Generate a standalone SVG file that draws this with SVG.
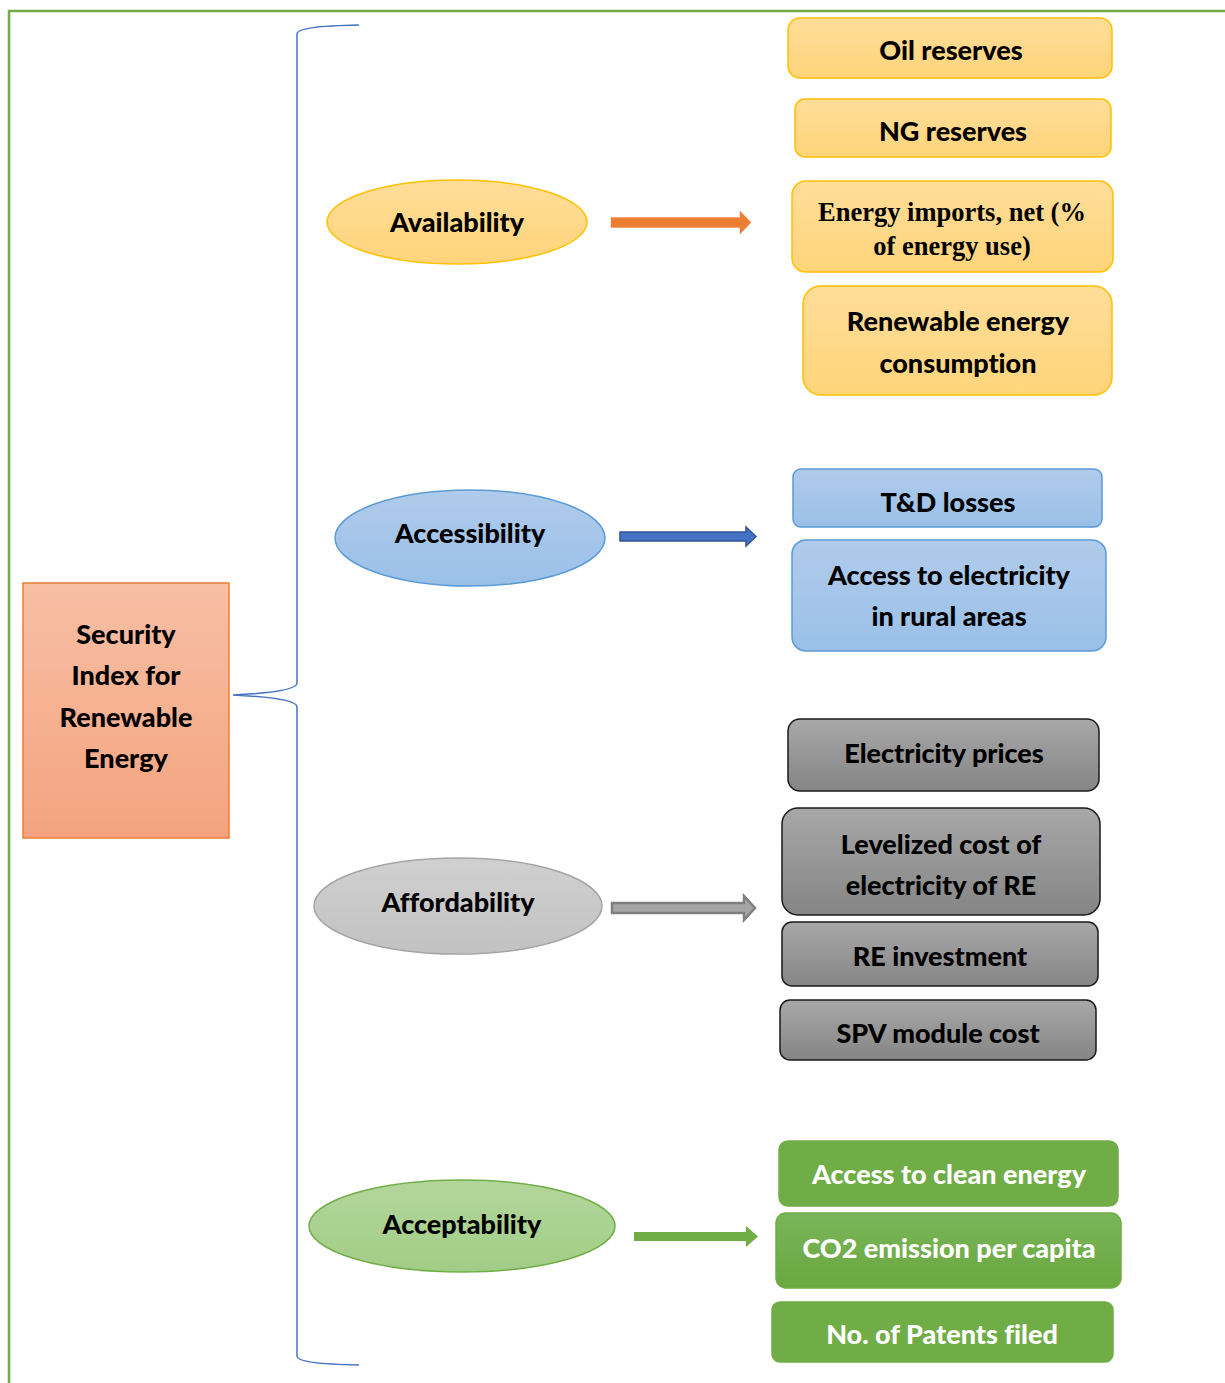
<svg xmlns="http://www.w3.org/2000/svg" width="1225" height="1383" viewBox="0 0 1225 1383">
<defs>
<linearGradient id="gOr" x1="0" y1="0" x2="0" y2="1"><stop offset="0" stop-color="#ffdd99"/><stop offset="1" stop-color="#ffd47a"/></linearGradient>
<linearGradient id="gBl" x1="0" y1="0" x2="0" y2="1"><stop offset="0" stop-color="#b0cbeb"/><stop offset="1" stop-color="#9ac0e8"/></linearGradient>
<linearGradient id="gGr" x1="0" y1="0" x2="0" y2="1"><stop offset="0" stop-color="#a8a8a8"/><stop offset="1" stop-color="#858585"/></linearGradient>
<linearGradient id="gGe" x1="0" y1="0" x2="0" y2="1"><stop offset="0" stop-color="#d0d0d0"/><stop offset="1" stop-color="#c2c2c2"/></linearGradient>
<linearGradient id="gGn" x1="0" y1="0" x2="0" y2="1"><stop offset="0" stop-color="#b3d69b"/><stop offset="1" stop-color="#a2cd86"/></linearGradient>
<linearGradient id="gGb" x1="0" y1="0" x2="0" y2="1"><stop offset="0" stop-color="#7ab55a"/><stop offset="1" stop-color="#6aa83f"/></linearGradient>
<linearGradient id="gSec" x1="0" y1="0" x2="0" y2="1"><stop offset="0" stop-color="#f7bfa5"/><stop offset="1" stop-color="#f4a37e"/></linearGradient>
</defs>
<style>
.t{font-family:Lato,"Open Sans","Liberation Sans",sans-serif;font-weight:900;font-size:27px;fill:#000;text-anchor:middle;dominant-baseline:central;font-variant-ligatures:none}
.w{fill:#fff}
.s{font-family:"Liberation Serif",serif;font-weight:bold;font-size:26.5px}
.or{fill:url(#gOr);stroke:#ffc000;stroke-width:1.5}
.bl{fill:url(#gBl);stroke:#5b9bd5;stroke-width:1.5}
.gr{fill:url(#gGr);stroke:#1a1a1a;stroke-width:1.5}
.gn{fill:#70ad47;stroke:#70ad47;stroke-width:1.5}
</style>
<rect x="9" y="11" width="1230" height="1390" fill="none" stroke="#70ad47" stroke-width="2.5"/>

<g id="connectors">
<path d="M359,25 Q297,26 297,34 L297,683 Q297,692 233,695 Q297,698 297,707 L297,1356 Q297,1364 359,1365" fill="none" stroke="#4472c4" stroke-width="1.5"/>
<polygon points="611,217.5 740,217.5 740,211 751,222.5 740,234 740,227.5 611,227.5" fill="#ed7d31" stroke="#f08a4b" stroke-width="0.5"/>
<polygon points="620,532 746,532 746,527 756,536.5 746,546 746,541 620,541" fill="#4472c4" stroke="#2f5597" stroke-width="1.5"/>
<polygon points="612,903 744,903 744,896 755,908 744,920 744,913 612,913" fill="#a5a5a5" stroke="#7f7f7f" stroke-width="2.5"/>
<polygon points="634,1232 746,1232 746,1226 758,1236.5 746,1247 746,1241 634,1241" fill="#70ad47"/>
</g>

<g id="security">
<rect x="23" y="583" width="206" height="255" fill="url(#gSec)" stroke="#ed7d31" stroke-width="1.5"/>
<text class="t" x="126" y="633">Security</text>
<text class="t" x="126" y="674">Index for</text>
<text class="t" x="126" y="716">Renewable</text>
<text class="t" x="126" y="757">Energy</text>
</g>

<g id="availability"><ellipse cx="457" cy="222" rx="130" ry="42" class="or"/><text class="t" x="457" y="221">Availability</text></g>
<g id="accessibility"><ellipse cx="470" cy="538" rx="135" ry="48" class="bl"/><text class="t" x="470" y="532">Accessibility</text></g>
<g id="affordability"><ellipse cx="458" cy="906" rx="144" ry="48" fill="url(#gGe)" stroke="#a5a5a5" stroke-width="1.5"/><text class="t" x="458" y="901">Affordability</text></g>
<g id="acceptability"><ellipse cx="462" cy="1226" rx="153" ry="46" fill="url(#gGn)" stroke="#70ad47" stroke-width="1.5"/><text class="t" x="462" y="1223">Acceptability</text></g>

<g id="oil"><rect x="788" y="18" width="324" height="60" rx="12" class="or"/><text class="t" x="951" y="49">Oil reserves</text></g>
<g id="ng"><rect x="795" y="99" width="316" height="58" rx="10" class="or"/><text class="t" x="953" y="130">NG reserves</text></g>
<g id="imports"><rect x="792" y="181" width="321" height="91" rx="14" class="or"/><text class="t s" x="952" y="212">Energy imports, net (%</text><text class="t s" x="952" y="246">of energy use)</text></g>
<g id="recons"><rect x="803" y="286" width="309" height="109" rx="18" class="or"/><text class="t" x="958" y="320">Renewable energy</text><text class="t" x="958" y="362">consumption</text></g>

<g id="td"><rect x="793" y="469" width="309" height="58" rx="8" class="bl"/><text class="t" x="948" y="501">T&amp;D losses</text></g>
<g id="access"><rect x="792" y="540" width="314" height="111" rx="14" class="bl"/><text class="t" x="949" y="574">Access to electricity</text><text class="t" x="949" y="615">in rural areas</text></g>

<g id="price"><rect x="788" y="719" width="311" height="72" rx="12" class="gr"/><text class="t" x="944" y="752">Electricity prices</text></g>
<g id="lcoe"><rect x="782" y="808" width="318" height="107" rx="16" class="gr"/><text class="t" x="941" y="843">Levelized cost of</text><text class="t" x="941" y="884">electricity of RE</text></g>
<g id="reinv"><rect x="782" y="922" width="316" height="64" rx="10" class="gr"/><text class="t" x="940" y="955">RE investment</text></g>
<g id="spv"><rect x="780" y="1000" width="316" height="60" rx="10" class="gr"/><text class="t" x="938" y="1032">SPV module cost</text></g>

<g id="clean"><rect x="779" y="1141" width="339" height="65" rx="9" class="gn"/><text class="t w" x="949" y="1173">Access to clean energy</text></g>
<g id="co2"><rect x="776" y="1213" width="345" height="75" rx="10" fill="url(#gGb)" stroke="#70ad47" stroke-width="1.5"/><text class="t w" x="949" y="1247">CO2 emission per capita</text></g>
<g id="patents"><rect x="772" y="1302" width="341" height="60" rx="8" class="gn"/><text class="t w" x="942" y="1333">No. of Patents filed</text></g>
</svg>
